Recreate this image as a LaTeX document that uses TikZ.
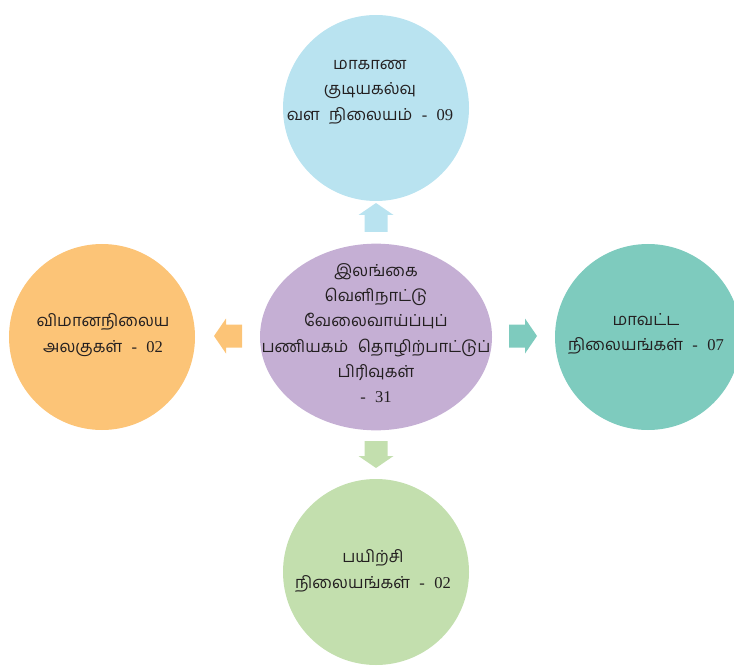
\documentclass[tikz,border=0pt]{standalone}
\usepackage{fontspec}
\usetikzlibrary{shapes.geometric}
\newfontfamily\tamil[Script=Tamil]{Hind Madurai}
\newfontfamily\numf{Liberation Serif}
\definecolor{cblue}{HTML}{B9E3F0}
\definecolor{cpurple}{HTML}{C5AFD4}
\definecolor{corange}{HTML}{FCC477}
\definecolor{cteal}{HTML}{7ECBBE}
\definecolor{cgreen}{HTML}{C3DFAE}
\definecolor{ctext}{HTML}{231F20}
\newcommand{\gp}{\hspace{7pt}}
\begin{document}
\begin{tikzpicture}[x=0.75pt,y=-0.75pt,
  bubble/.style={circle,minimum size=139.5pt,inner sep=0pt},
  centre/.style={ellipse,minimum width=174pt,minimum height=140pt,inner sep=0pt},
  label/.style={align=center,text=ctext,inner sep=0pt,font=\tamil\fontsize{12.4}{19}\selectfont}]
\useasboundingbox (0,0) rectangle (734,666);
\clip (0,0) rectangle (734,666);
% circles
\node[bubble,fill=cblue] (top) at (376,108) {};
\node[centre,fill=cpurple] (mid) at (376,337) {};
\node[bubble,fill=corange] (left) at (102,337) {};
\node[bubble,fill=cteal] (right) at (648,337) {};
\node[bubble,fill=cgreen] (bottom) at (376,572) {};
% texts
\node[label] (toptext) at (370,92)
  {மாகாண\\குடியகல்வு\\வள\gp நிலையம்\gp{\numf -\gp 09}};
\node[label] (midtext) at (376,333)
  {இலங்கை\\வெளிநாட்டு\\வேலைவாய்ப்புப்\\பணியகம்\gp தொழிற்பாட்டுப்\\பிரிவுகள்\\{\numf -\gp 31}};
\node[label] (lefttext) at (103,335)
  {விமானநிலைய\\அலகுகள்\gp{\numf -\gp 02}};
\node[label] (righttext) at (646,334)
  {மாவட்ட\\நிலையங்கள்\gp{\numf -\gp 07}};
\node[label] (bottomtext) at (373,571)
  {பயிற்சி\\நிலையங்கள்\gp{\numf -\gp 02}};
% block arrows
\fill[cblue] (376,203) -- (393.5,215) -- (387.5,215) -- (387.5,232) -- (364.5,232) -- (364.5,215) -- (358.5,215) -- cycle;
\fill[cgreen] (376,468) -- (393.5,456) -- (387.5,456) -- (387.5,441) -- (364.5,441) -- (364.5,456) -- (358.5,456) -- cycle;
\fill[corange] (214,336) -- (226,318.5) -- (226,324.5) -- (242,324.5) -- (242,347.5) -- (226,347.5) -- (226,353.5) -- cycle;
\fill[cteal] (537,336) -- (525,318.5) -- (525,324.5) -- (509,324.5) -- (509,347.5) -- (525,347.5) -- (525,353.5) -- cycle;
\end{tikzpicture}
\end{document}
